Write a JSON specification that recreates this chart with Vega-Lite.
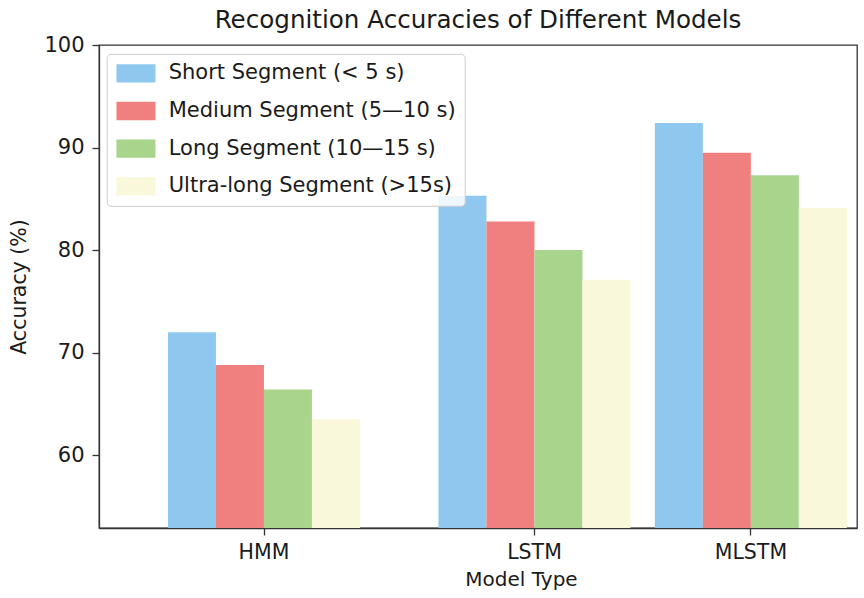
{
  "$schema": "https://vega.github.io/schema/vega-lite/v6.json",
  "width": 758,
  "height": 483,
  "autosize": {"type": "none"},
  "padding": {"left": 99, "top": 45, "right": 7, "bottom": 70},
  "background": "white",
  "title": {
    "text": "Recognition Accuracies of Different Models",
    "font": "DejaVu Sans",
    "fontSize": 24.6,
    "fontWeight": "normal",
    "color": "#1a1a1a",
    "anchor": "middle",
    "frame": "group",
    "offset": 0
  },
  "config": {
    "font": "DejaVu Sans",
    "view": {"stroke": "#333333", "strokeWidth": 1.3}
  },
  "data": {
    "values": [
      {"model": "HMM", "segment": "Short Segment (< 5 s)", "accuracy": 72.0},
      {"model": "HMM", "segment": "Medium Segment (5—10 s)", "accuracy": 68.8},
      {"model": "HMM", "segment": "Long Segment (10—15 s)", "accuracy": 66.4},
      {"model": "HMM", "segment": "Ultra-long Segment (>15s)", "accuracy": 63.5},
      {"model": "LSTM", "segment": "Short Segment (< 5 s)", "accuracy": 85.3},
      {"model": "LSTM", "segment": "Medium Segment (5—10 s)", "accuracy": 82.8},
      {"model": "LSTM", "segment": "Long Segment (10—15 s)", "accuracy": 80.0},
      {"model": "LSTM", "segment": "Ultra-long Segment (>15s)", "accuracy": 77.1},
      {"model": "MLSTM", "segment": "Short Segment (< 5 s)", "accuracy": 92.4},
      {"model": "MLSTM", "segment": "Medium Segment (5—10 s)", "accuracy": 89.5},
      {"model": "MLSTM", "segment": "Long Segment (10—15 s)", "accuracy": 87.3},
      {"model": "MLSTM", "segment": "Ultra-long Segment (>15s)", "accuracy": 84.1}
    ]
  },
  "mark": {"type": "bar", "clip": true},
  "encoding": {
    "x": {
      "field": "model",
      "type": "nominal",
      "scale": {
        "domain": ["_a", "_b", "HMM", "_c", "_d", "_e", "_f", "LSTM", "_g", "_h", "_i", "MLSTM", "_j"],
        "paddingInner": 0,
        "paddingOuter": 0.5055,
        "align": 0.544
      },
      "axis": {
        "values": ["HMM", "LSTM", "MLSTM"],
        "title": "Model Type",
        "titleX": 422,
        "labelAngle": 0,
        "grid": false,
        "tickSize": 7,
        "labelPadding": 7,
        "labelFont": "DejaVu Sans",
        "labelFontSize": 20.5,
        "labelColor": "#1a1a1a",
        "titleFont": "DejaVu Sans",
        "titleFontSize": 20,
        "titleFontWeight": "normal",
        "titleColor": "#1a1a1a",
        "titlePadding": 7,
        "domainColor": "#333333",
        "domainWidth": 1.3,
        "tickColor": "#333333",
        "tickWidth": 1.3
      }
    },
    "xOffset": {
      "field": "segment",
      "type": "nominal",
      "scale": {
        "domain": ["Short Segment (< 5 s)", "Medium Segment (5—10 s)", "Long Segment (10—15 s)", "Ultra-long Segment (>15s)"],
        "range": [-69, 123],
        "paddingInner": 0,
        "paddingOuter": 0
      }
    },
    "y": {
      "field": "accuracy",
      "type": "quantitative",
      "scale": {"domain": [52.9, 100], "nice": false, "zero": false},
      "axis": {
        "values": [60, 70, 80, 90, 100],
        "title": "Accuracy (%)",
        "grid": false,
        "tickSize": 7,
        "labelPadding": 8,
        "labelFont": "DejaVu Sans",
        "labelFontSize": 21,
        "labelColor": "#1a1a1a",
        "titleFont": "DejaVu Sans",
        "titleFontSize": 20.5,
        "titleFontWeight": "normal",
        "titleColor": "#1a1a1a",
        "titlePadding": 14,
        "domainColor": "#333333",
        "domainWidth": 1.3,
        "tickColor": "#333333",
        "tickWidth": 1.3
      }
    },
    "color": {
      "field": "segment",
      "type": "nominal",
      "scale": {
        "domain": ["Short Segment (< 5 s)", "Medium Segment (5—10 s)", "Long Segment (10—15 s)", "Ultra-long Segment (>15s)"],
        "range": ["#8EC8EE", "#F08080", "#A8D58B", "#FAF8DA"]
      },
      "legend": {
        "orient": "none",
        "legendX": 7.7,
        "legendY": 8.8,
        "title": null,
        "labelFont": "DejaVu Sans",
        "labelFontSize": 21,
        "labelColor": "#1a1a1a",
        "labelLimit": 400,
        "labelOffset": 32,
        "symbolType": "M-1,-0.94H3V0.94H-1Z",
        "symbolSize": 380,
        "symbolStrokeWidth": 0,
        "symbolOpacity": 1,
        "rowPadding": 15.7,
        "padding": 9,
        "fillColor": "rgba(255,255,255,0.85)",
        "strokeColor": "#cccccc",
        "cornerRadius": 4
      }
    }
  }
}
